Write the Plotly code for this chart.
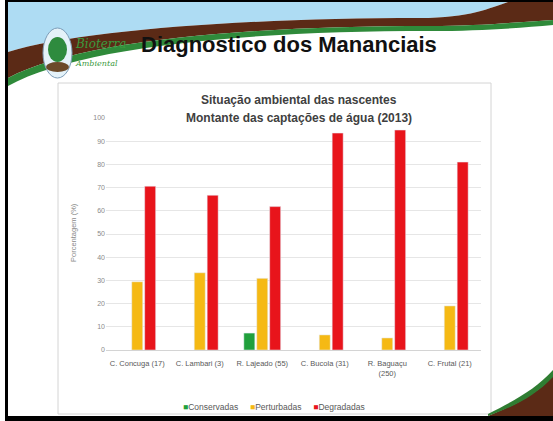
import plotly.graph_objects as go

# ---------------- data ----------------
categories = ["C. Concuga (17)", "C. Lambari (3)", "R. Lajeado (55)",
              "C. Bucola (31)", "R. Baguaçu<br>(250)", "C. Frutal (21)"]
conservadas = [None, None, 7.3, None, None, None]
perturbadas = [29.4, 33.3, 30.9, 6.5, 5.2, 19.0]
degradadas = [70.6, 66.7, 61.8, 93.5, 94.8, 81.0]
series_names = ["Conservadas", "Perturbadas", "Degradadas"]
series_colors = ["#20a03c", "#f5b914", "#e8141b"]
y_ticks = [0, 10, 20, 30, 40, 50, 60, 70, 80, 90, 100]

W, H = 553, 421
ML, MR, MT, MB = 106, 72, 118, 71
PW, PH = W - ML - MR, H - MT - MB
FONT = "Liberation Sans, Arial, sans-serif"


def px(x):
    return (x - ML) / PW


def py(y):
    return (H - MB - y) / PH


def path(cmds):
    out = []
    for c in cmds:
        if isinstance(c, str):
            out.append(c)
        else:
            out.append(f"{px(c[0]):.5f},{py(c[1]):.5f}")
    return " ".join(out)


fig = go.Figure()
for name, vals, col in zip(series_names, [conservadas, perturbadas, degradadas], series_colors):
    fig.add_bar(name=name, x=categories, y=vals, marker_color=col, showlegend=False)

shapes = []
# chart box
shapes.append(dict(type="rect", xref="paper", yref="paper", layer="below",
                   x0=px(58), x1=px(491), y0=py(83), y1=py(414),
                   line=dict(color="#d4d4d4", width=1), fillcolor="white"))
# sky
shapes.append(dict(type="path", xref="paper", yref="paper", layer="below",
                   path=path(["M", (8, 2), "L", (508, 2), "C", (490, 8), (470, 18), (420, 18),
                              "C", (250, 18), (80, 30), (8, 52), "Z"]),
                   fillcolor="#aedcf3", line=dict(width=0)))
# brown band
shapes.append(dict(type="path", xref="paper", yref="paper", layer="below",
                   path=path(["M", (8, 52), "C", (80, 30), (250, 18), (420, 18),
                              "C", (470, 18), (490, 8), (508, 2), "L", (553, 2), "L", (553, 20),
                              "C", (520, 22), (480, 26), (430, 26),
                              "C", (250, 26), (80, 40), (8, 78), "Z"]),
                   fillcolor="#5b2a16", line=dict(width=0)))
# green band
shapes.append(dict(type="path", xref="paper", yref="paper", layer="below",
                   path=path(["M", (8, 78), "C", (80, 40), (250, 26), (430, 26),
                              "C", (480, 26), (520, 22), (553, 20), "L", (553, 25),
                              "C", (520, 28), (480, 31), (430, 31),
                              "C", (250, 31), (80, 46), (8, 86), "Z"]),
                   fillcolor="#2f8a3a", line=dict(width=0)))
# bottom-right swoosh
shapes.append(dict(type="path", xref="paper", yref="paper", layer="below",
                   path=path(["M", (488, 416), "C", (515, 405), (535, 395), (553, 376),
                              "L", (553, 416), "Z"]),
                   fillcolor="#5b2a16", line=dict(width=0)))
shapes.append(dict(type="path", xref="paper", yref="paper", layer="below",
                   path=path(["M", (488, 414), "C", (515, 400), (535, 390), (553, 370),
                              "L", (553, 377), "C", (535, 396), (515, 406), (488, 416), "Z"]),
                   fillcolor="#2f7d32", line=dict(width=0)))
# logo
shapes.append(dict(type="circle", xref="paper", yref="paper", layer="below",
                   x0=px(43), x1=px(72), y0=py(78), y1=py(28),
                   fillcolor="#e4f2f9", line=dict(color="#7d9db8", width=1)))
shapes.append(dict(type="circle", xref="paper", yref="paper", layer="below",
                   x0=px(48), x1=px(67), y0=py(62), y1=py(37),
                   fillcolor="#2e8b3e", line=dict(width=0)))
shapes.append(dict(type="circle", xref="paper", yref="paper", layer="below",
                   x0=px(46), x1=px(69), y0=py(72), y1=py(62),
                   fillcolor="#6b4a2a", line=dict(width=0)))
# black borders
shapes.append(dict(type="rect", xref="paper", yref="paper", layer="above",
                   x0=px(5), x1=px(8), y0=py(421), y1=py(0),
                   fillcolor="black", line=dict(width=0)))
shapes.append(dict(type="rect", xref="paper", yref="paper", layer="above",
                   x0=px(5), x1=px(553), y0=py(421), y1=py(416),
                   fillcolor="black", line=dict(width=0)))
shapes.append(dict(type="rect", xref="paper", yref="paper", layer="above",
                   x0=px(5), x1=px(553), y0=py(2), y1=py(0),
                   fillcolor="black", line=dict(width=0)))

legend_text = "&nbsp;&nbsp;&nbsp;&nbsp;&nbsp;".join(
    f"<span style='color:{c}'>■</span>{n}" for n, c in zip(series_names, series_colors))

annotations = [
    dict(text="<b>Diagnostico dos Mananciais</b>", x=px(289), y=py(44), xref="paper", yref="paper",
         showarrow=False, xanchor="center", yanchor="middle",
         font=dict(family=FONT, size=22, color="#111111")),
    dict(text="<i>Bioterra</i>", x=px(73), y=py(44), xref="paper", yref="paper",
         showarrow=False, xanchor="left", yanchor="middle",
         font=dict(family="DejaVu Serif, serif", size=12, color="#3a9a3e")),
    dict(text="<i>Ambiental</i>", x=px(73), y=py(64), xref="paper", yref="paper",
         showarrow=False, xanchor="left", yanchor="middle",
         font=dict(family="DejaVu Serif, serif", size=8, color="#3a9a3e")),
    dict(text="<b>Situação ambiental das nascentes</b>",
         x=px(299), y=py(100), xref="paper", yref="paper", showarrow=False,
         xanchor="center", yanchor="middle", bgcolor="white", borderpad=0,
         font=dict(family=FONT, size=12, color="#404040")),
    dict(text="<b>Montante das captações de água (2013)</b>",
         x=px(299), y=py(118), xref="paper", yref="paper", showarrow=False,
         xanchor="center", yanchor="middle", bgcolor="white", borderpad=1,
         font=dict(family=FONT, size=12, color="#404040")),
    dict(text="Porcentagem (%)", x=px(73), y=py(233), xref="paper", yref="paper",
         showarrow=False, textangle=-90, xanchor="center", yanchor="middle",
         font=dict(family=FONT, size=7.5, color="#8a8a8a")),
    dict(text=legend_text, x=px(274), y=py(407), xref="paper", yref="paper",
         showarrow=False, xanchor="center", yanchor="middle",
         font=dict(family=FONT, size=8.5, color="#595959")),
]

fig.update_layout(
    width=W, height=H,
    margin=dict(l=ML, r=MR, t=MT, b=MB, autoexpand=False),
    paper_bgcolor="white", plot_bgcolor="rgba(0,0,0,0)",
    barmode="group", bargap=0.38, bargroupgap=0.15,
    font=dict(family=FONT, color="#595959"),
    showlegend=False,
    shapes=shapes,
    annotations=annotations,
)
fig.update_yaxes(range=[0, 100], tickvals=y_ticks, showgrid=True, gridcolor="#e6e6e6",
                 gridwidth=1, zeroline=False, showline=False, automargin=False,
                 tickfont=dict(family=FONT, size=7, color="#8a8a8a"))
fig.update_xaxes(showline=True, linecolor="#d4d4d4", ticks="", ticklabelstandoff=6,
                 tickangle=0, automargin=False,
                 tickfont=dict(family=FONT, size=7.5, color="#595959"))

fig.write_html("out.html", config={"displayModeBar": False},
               post_script="document.body.style.margin='0px';document.body.style.overflow='hidden';")
